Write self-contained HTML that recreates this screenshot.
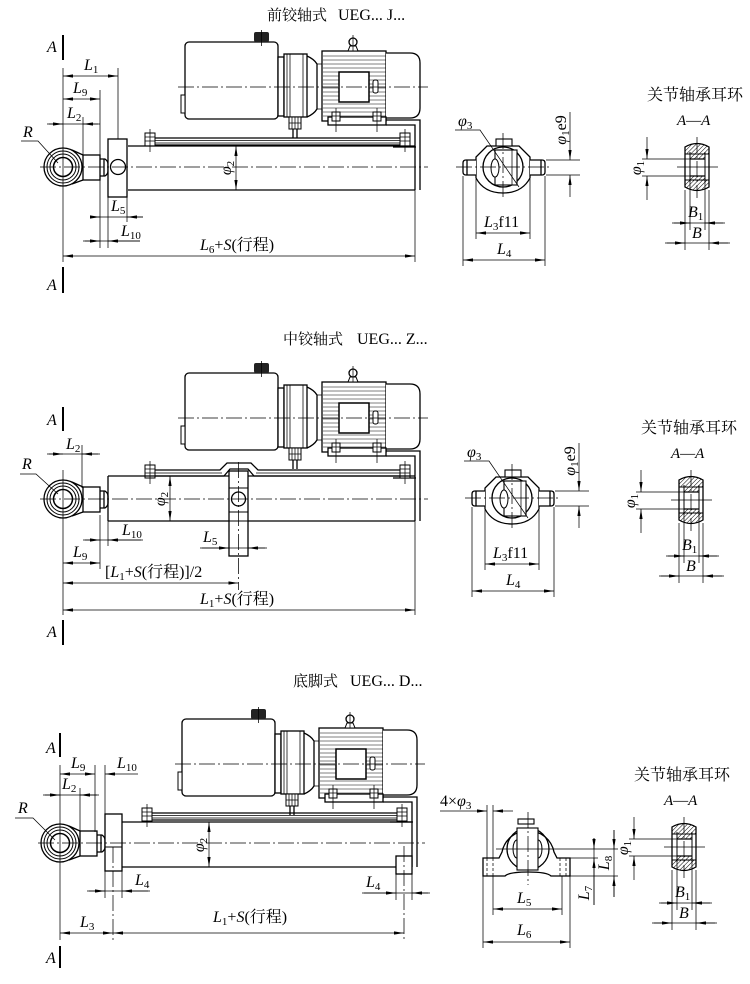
<!DOCTYPE html>
<html><head><meta charset="utf-8"><style>
html,body{margin:0;padding:0;background:#fff}
svg{display:block}
.k{fill:none;stroke:#000;stroke-width:1.3}
.w{fill:#fff;stroke:#000;stroke-width:1.3}
.t{fill:none;stroke:#000;stroke-width:0.75}
.f{fill:none;stroke:#000;stroke-width:0.5}
.c{fill:none;stroke:#000;stroke-width:0.75;stroke-dasharray:16 3 2 3}
.dsh{fill:none;stroke:#000;stroke-width:0.75;stroke-dasharray:3 2}
.a{marker-end:url(#ar)}
.aa{marker-start:url(#ar);marker-end:url(#ar)}
text{font-family:"Liberation Serif","Noto Serif CJK SC",serif;font-size:16px;fill:#000}
.i{font-style:italic}
.s{font-size:11px;font-style:normal}
.n{font-style:normal}
.cn{font-size:15px}
.cr{font-size:16px}
.lt{font-size:16px}
</style></head><body>
<svg width="750" height="984" viewBox="0 0 750 984" xmlns="http://www.w3.org/2000/svg">
<defs>
<marker id="ar" markerUnits="userSpaceOnUse" markerWidth="10" markerHeight="4" viewBox="0 0 10 4" refX="10" refY="2" orient="auto-start-reverse"><path d="M0,0.4 L10,2 L0,3.6z"/></marker>
<pattern id="h" width="3" height="3" patternUnits="userSpaceOnUse" patternTransform="rotate(45)"><line x1="0" y1="0" x2="0" y2="3" stroke="#000" stroke-width="1"/></pattern>

<g id="mot">
<rect x="185" y="42" width="93" height="77" rx="4" class="w"/>
<rect x="254" y="32" width="15" height="10" rx="2" fill="#222"/>
<line x1="261.5" y1="30" x2="261.5" y2="46" class="t"/>
<rect x="181" y="95" width="4" height="18" class="w" style="stroke-width:1"/>
<rect x="278" y="57" width="6" height="59" class="w"/>
<rect x="284" y="54" width="23" height="63" class="w"/>
<path d="M287,54V117M290,54V117M303,54V117" class="t"/>
<path d="M307,56 Q314,59 317,64 V109 Q314,114 307,117" class="k"/>
<path d="M317,64 H322 M317,109 H322" class="t"/>
<rect x="322" y="51" width="64" height="70" class="w"/>
<path d="M323,56H386M323,60H386M323,64H386M323,68H386M323,72H386M323,76H386M323,80H386M323,84H386M323,88H386M323,92H386M323,96H386M323,100H386M323,104H386M323,108H386M323,112H386M323,116H386" class="f"/>
<rect x="339" y="72" width="30" height="30" class="w" style="stroke-width:1.5"/>
<rect x="373" y="80" width="5" height="13" rx="2" class="w" style="stroke-width:1"/>
<path d="M386,53 H410 Q420,53 420,63 V108 Q420,118 410,118 H386" class="w"/>
<circle cx="353" cy="42" r="4" class="k"/>
<path d="M348,51 L350,46 H356 L358,51Z" class="w" style="stroke-width:1"/>
<line x1="353" y1="35" x2="353" y2="51" class="t"/>
<rect x="328" y="117" width="58" height="8" class="w"/>
<rect x="332" y="112" width="8" height="9" class="w" style="stroke-width:1"/>
<rect x="373" y="112" width="8" height="9" class="w" style="stroke-width:1"/>
<path d="M336,108V132M377,108V132M332,116H340M373,116H381" class="t"/>
<path d="M386,120H420V190M386,125H415V190" class="k"/>
<rect x="289" y="117" width="12" height="12" class="w" style="stroke-width:1"/>
<path d="M292,117V129M295,117V129M298,117V129M289,123H301" class="t"/>
<path d="M293,129V138M297,129V138" class="k"/>
<path d="M178,87H428" class="c"/>
</g>

<g id="pp">
<path d="M145,138H410M145,145H400" class="k"/>
<path d="M145,140.5H405M145,143H400" class="t"/>
<path d="M393,147H416" class="k"/>
<rect x="145" y="133" width="10" height="13" class="w" style="stroke-width:1"/>
<path d="M145,137H155M145,141H155M150,129V152" class="t"/>
<rect x="400" y="133" width="10" height="13" class="w" style="stroke-width:1"/>
<path d="M400,137H410M400,141H410M405,129V152" class="t"/>
</g>

<g id="eye">
<circle cx="63" cy="167" r="19" class="k"/>
<circle cx="63" cy="167" r="16" class="t" style="stroke-width:1"/>
<circle cx="63" cy="167" r="13" class="t" style="stroke-width:1"/>
<circle cx="63" cy="167" r="9.5" class="k" style="stroke-width:1.5"/>
<path d="M72,150 L83,155 M72,184 L83,180" class="k"/>
<rect x="83" y="155" width="17" height="25" class="w"/>
<path d="M100,159 H105 Q108,161 108,164 V171 Q108,174 105,176 H100 M104,159V176" class="k"/>
</g>

<g id="fv">
<path d="M487,146 L519,146 L530,157 L530,178 Q522,193 503,193 Q484,193 476,178 L476,157 Z" class="w"/>
<rect x="496" y="139" width="16" height="7" class="w" style="stroke-width:1.1"/>
<circle cx="503" cy="167" r="20" class="k"/>
<rect x="495" y="150" width="22" height="35" class="w" style="stroke-width:1.1"/>
<ellipse cx="495" cy="168" rx="4" ry="9" class="w" style="stroke-width:1"/>
<path d="M512,150V185" class="t"/>
<path d="M476,160 H466 Q463,160 463,163 V172 Q463,175 466,175 H476 M467,160V175" class="w"/>
<path d="M530,160 H542 Q545,160 545,163 V172 Q545,175 542,175 H530 M541,160V175" class="w"/>
<path d="M456,167H552" class="c"/>
<path d="M503,133V200" class="c"/>
<path d="M455,130 H480 L519,187" class="t"/>
<text x="458" y="126" class="i">φ<tspan class="s" dy="3">3</tspan></text>
<path d="M546,160H580M546,175H580" class="t"/>
<path d="M570,112V160" class="t a"/>
<path d="M570,197V175" class="t a"/>
<text transform="translate(566,130) rotate(-90)" text-anchor="middle" class="i">φ<tspan class="s" dy="3">1</tspan><tspan dy="-3" class="n">e9</tspan></text>
<path d="M476,179V239M530,179V239" class="t"/>
<path d="M476,233H530" class="t aa"/>
<text x="484" y="227" class="i">L<tspan class="s" dy="3">3</tspan><tspan dy="-3" class="n">f11</tspan></text>
<path d="M463,176V266M545,176V266" class="t"/>
<path d="M463,260H545" class="t aa"/>
<text x="497" y="254" class="i">L<tspan class="s" dy="3">4</tspan></text>
</g>

<g id="ring">
<text x="647" y="100" class="cr">关节轴承耳环</text>
<text x="677" y="125" class="i" style="font-size:15px">A<tspan class="n">—</tspan>A</text>
<path d="M685,147 Q697,140 709,147 V154 H685 Z" fill="url(#h)"/>
<path d="M685,187 Q697,194 709,187 V180 H685 Z" fill="url(#h)"/>
<rect x="690" y="154" width="15" height="5" fill="url(#h)"/>
<rect x="690" y="176" width="15" height="5" fill="url(#h)"/>
<path d="M685,147 Q697,140 709,147 V187 Q697,194 685,187 Z" class="k"/>
<path d="M690,152V182M705,152V182M685,154H709M685,180H709" class="k" style="stroke-width:1"/>
<path d="M690,159H705M690,176H705" class="k"/>
<path d="M677,167H718" class="t"/>
<path d="M697,137V198" class="c"/>
<path d="M642,159H692M642,176H692" class="t"/>
<path d="M647,137V159" class="t a"/>
<path d="M647,200V176" class="t a"/>
<text transform="translate(641,168) rotate(-90)" text-anchor="middle" class="i">φ<tspan class="s" dy="3">1</tspan></text>
<path d="M690,182V230M705,182V230M685,190V250M709,190V250" class="t"/>
<path d="M672,223H725" class="t"/>
<path d="M674,223H690" class="t a"/>
<path d="M723,223H705" class="t a"/>
<text x="688" y="217" class="i">B<tspan class="s" dy="3">1</tspan></text>
<path d="M665,243H730" class="t"/>
<path d="M667,243H685" class="t a"/>
<path d="M728,243H709" class="t a"/>
<text x="692" y="238" class="i">B</text>
</g>
</defs>

<!-- ================= SECTION 1 ================= -->
<text x="267" y="20" class="cn">前铰轴式</text>
<text x="338" y="20" class="lt">UEG...  J...</text>
<text x="47" y="52" class="i">A</text>
<path d="M63,35V60" stroke="#000" stroke-width="2"/>
<text x="47" y="290" class="i">A</text>
<path d="M63,267V293" stroke="#000" stroke-width="2"/>

<use href="#mot"/>
<use href="#pp"/>
<path d="M128,146H415M128,190H415" class="k"/>
<use href="#eye"/>
<rect x="108" y="139" width="19" height="58" class="w"/>
<circle cx="118" cy="167" r="7.5" class="k"/>
<path d="M40,167H428" class="c"/>

<path d="M63,68V262" class="t"/>
<path d="M118,68V139M100,90V248M83,117V155M108,197V248M127,197V222M415,190V262" class="t"/>
<path d="M63,76H118" class="t aa"/>
<text x="84" y="70" class="i">L<tspan class="s" dy="3">1</tspan></text>
<path d="M63,99H100" class="t aa"/>
<text x="73" y="93" class="i">L<tspan class="s" dy="3">9</tspan></text>
<path d="M47,124H100" class="t"/>
<path d="M49,124H63" class="t a"/>
<path d="M98,124H83" class="t a"/>
<text x="67" y="118" class="i">L<tspan class="s" dy="3">2</tspan></text>
<path d="M92,217H143" class="t"/>
<path d="M92,217H100" class="t a"/>
<path d="M143,217H127" class="t a"/>
<text x="111" y="211" class="i">L<tspan class="s" dy="3">5</tspan></text>
<path d="M83,241H140" class="t"/>
<path d="M85,241H100" class="t a"/>
<path d="M140,241H108" class="t a"/>
<text x="121" y="236" class="i">L<tspan class="s" dy="3">10</tspan></text>
<path d="M63,256H415" class="t aa"/>
<text x="200" y="250" class="i">L<tspan class="s" dy="3">6</tspan><tspan dy="-3" class="n">+</tspan>S<tspan class="n">(行程)</tspan></text>
<path d="M236,146V190" class="t aa"/>
<text transform="translate(231,168) rotate(-90)" text-anchor="middle" class="i">φ<tspan class="s" dy="3">2</tspan></text>
<text x="23" y="137" class="i">R</text>
<path d="M21,141H38L58,163" class="t"/>

<use href="#fv"/>
<use href="#ring"/>

<!-- ================= SECTION 2 ================= -->
<text x="283" y="344" class="cn">中铰轴式</text>
<text x="357" y="344" class="lt">UEG...  Z...</text>
<text x="47" y="425" class="i">A</text>
<path d="M63,407V431" stroke="#000" stroke-width="2"/>
<text x="47" y="637" class="i">A</text>
<path d="M63,620V645" stroke="#000" stroke-width="2"/>

<use href="#mot" transform="translate(0,331)"/>
<path d="M145,470H220L227,463H251L258,470H410M145,476H224L230,469H248L254,476H400" class="k"/>
<path d="M145,473H222M256,473H405" class="t"/>
<path d="M393,478H416" class="k"/>
<rect x="145" y="465" width="10" height="13" class="w" style="stroke-width:1"/>
<path d="M145,469H155M145,473H155M150,461V484" class="t"/>
<rect x="400" y="465" width="10" height="13" class="w" style="stroke-width:1"/>
<path d="M400,469H410M400,473H410M405,461V484" class="t"/>
<path d="M108,476H415M108,521H415M108,476V521" class="k"/>
<use href="#eye" transform="translate(0,332)"/>
<rect x="229" y="471" width="19" height="85" class="w"/>
<path d="M229,488H248M229,512H248M229,521H248" class="k" style="stroke-width:1"/>
<circle cx="238.5" cy="499" r="7" class="k"/>
<path d="M40,499H428" class="c"/>
<path d="M238.5,462V590" class="c"/>

<path d="M63,470V615M82,445V488M100,515V569M108,521V546M415,521V615" class="t"/>
<path d="M47,454H100" class="t"/>
<path d="M49,454H63" class="t a"/>
<path d="M98,454H82" class="t a"/>
<text x="66" y="449" class="i">L<tspan class="s" dy="3">2</tspan></text>
<text x="22" y="469" class="i">R</text>
<path d="M20,474H36L58,494" class="t"/>
<path d="M83,540H143" class="t"/>
<path d="M85,540H100" class="t a"/>
<path d="M141,540H108" class="t a"/>
<text x="122" y="535" class="i">L<tspan class="s" dy="3">10</tspan></text>
<path d="M63,563H100" class="t aa"/>
<text x="73" y="557" class="i">L<tspan class="s" dy="3">9</tspan></text>
<path d="M200,548H267" class="t"/>
<path d="M202,548H229" class="t a"/>
<path d="M265,548H248" class="t a"/>
<text x="203" y="542" class="i">L<tspan class="s" dy="3">5</tspan></text>
<path d="M63,583H238.5" class="t aa"/>
<text x="105" y="577">[<tspan class="i">L</tspan><tspan class="s" dy="3">1</tspan><tspan dy="-3">+</tspan><tspan class="i">S</tspan>(行程)]/2</text>
<path d="M63,610H415" class="t aa"/>
<text x="200" y="604" class="i">L<tspan class="s" dy="3">1</tspan><tspan dy="-3" class="n">+</tspan>S<tspan class="n">(行程)</tspan></text>
<path d="M170,476V521" class="t aa"/>
<text transform="translate(165,499) rotate(-90)" text-anchor="middle" class="i">φ<tspan class="s" dy="3">2</tspan></text>

<use href="#fv" transform="translate(9,331)"/>
<use href="#ring" transform="translate(-6,333)"/>

<!-- ================= SECTION 3 ================= -->
<text x="293" y="686" class="cn">底脚式</text>
<text x="350" y="686" class="lt">UEG...  D...</text>
<text x="46" y="753" class="i">A</text>
<path d="M60,733V757" stroke="#000" stroke-width="2"/>
<text x="46" y="963" class="i">A</text>
<path d="M60,946V968" stroke="#000" stroke-width="2"/>

<use href="#mot" transform="translate(-3,677)"/>
<use href="#pp" transform="translate(-3,675)"/>
<path d="M122,822H412M122,867H396" class="k"/>
<use href="#eye" transform="translate(-3,676)"/>
<rect x="105" y="814" width="17" height="57" class="w"/>
<path d="M105,847H122" class="k" style="stroke-width:1"/>
<rect x="396" y="856" width="16" height="18" class="w"/>
<path d="M38,843H425" class="c"/>
<path d="M113,847V940" class="c"/>
<path d="M404,846V940" class="c"/>

<path d="M60,765V940M95,765V832M105,765V814M80,788V832M105,871V898M122,871V898M396,874V900M412,874V900" class="t"/>
<path d="M60,774H95" class="t aa"/>
<text x="71" y="768" class="i">L<tspan class="s" dy="3">9</tspan></text>
<path d="M138,774H105" class="t a"/>
<text x="117" y="768" class="i">L<tspan class="s" dy="3">10</tspan></text>
<path d="M43,795H99" class="t"/>
<path d="M45,795H60" class="t a"/>
<path d="M97,795H80" class="t a"/>
<text x="62" y="789" class="i">L<tspan class="s" dy="3">2</tspan></text>
<text x="18" y="813" class="i">R</text>
<path d="M15,818H33L55,840" class="t"/>
<path d="M87,891H150" class="t"/>
<path d="M89,891H105" class="t a"/>
<path d="M148,891H122" class="t a"/>
<text x="135" y="885" class="i">L<tspan class="s" dy="3">4</tspan></text>
<path d="M60,933H113" class="t aa"/>
<text x="80" y="927" class="i">L<tspan class="s" dy="3">3</tspan></text>
<path d="M113,933H404" class="t aa"/>
<text x="213" y="922" class="i">L<tspan class="s" dy="3">1</tspan><tspan dy="-3" class="n">+</tspan>S<tspan class="n">(行程)</tspan></text>
<path d="M362,893H430" class="t"/>
<path d="M364,893H396" class="t a"/>
<path d="M428,893H412" class="t a"/>
<text x="366" y="887" class="i">L<tspan class="s" dy="3">4</tspan></text>
<path d="M209,822V867" class="t aa"/>
<text transform="translate(204,845) rotate(-90)" text-anchor="middle" class="i">φ<tspan class="s" dy="3">2</tspan></text>

<!-- pillow block front view -->
<path d="M483,858 H499 L502,852 A26.5,26.5 0 0 1 554,852 L557,858 H570 V876 H551 Q547,872 528,872 Q509,872 505,876 H483 Z" class="w"/>
<rect x="518" y="819" width="16" height="5" class="w" style="stroke-width:1.1"/>
<circle cx="528" cy="849" r="21" class="k"/>
<ellipse cx="517" cy="849" rx="4" ry="9" class="w" style="stroke-width:1"/>
<ellipse cx="538" cy="849" rx="4" ry="9" class="w" style="stroke-width:1"/>
<rect x="517" y="828" width="21" height="42" class="w" style="stroke-width:1.1"/>
<path d="M528,812V885" class="c"/>
<path d="M487,858V876M493,858V876M560,858V876M566,858V876" class="dsh"/>
<path d="M496,849H618M570,858H598M570,876H618" class="t"/>
<path d="M487,805V858M493,805V858" class="t"/>
<path d="M440,811H487" class="t a"/>
<path d="M513,811H493" class="t a"/>
<text x="440" y="806">4×<tspan class="i">φ</tspan><tspan class="s" dy="3">3</tspan></text>
<path d="M614,830V897" class="t"/>
<path d="M614,830V849" class="t a"/>
<path d="M614,897V876" class="t a"/>
<text transform="translate(609,863) rotate(-90)" text-anchor="middle" class="i">L<tspan class="s" dy="3">8</tspan></text>
<path d="M594,838V905" class="t"/>
<path d="M594,838V849" class="t a"/>
<path d="M594,905V858" class="t a"/>
<text transform="translate(589,893) rotate(-90)" text-anchor="middle" class="i">L<tspan class="s" dy="3">7</tspan></text>
<path d="M493,876V915M562,876V915" class="t"/>
<path d="M493,909H562" class="t aa"/>
<text x="517" y="903" class="i">L<tspan class="s" dy="3">5</tspan></text>
<path d="M483,876V948M570,876V948" class="t"/>
<path d="M483,942H570" class="t aa"/>
<text x="517" y="935" class="i">L<tspan class="s" dy="3">6</tspan></text>

<use href="#ring" transform="translate(-13,680)"/>
</svg>
</body></html>
